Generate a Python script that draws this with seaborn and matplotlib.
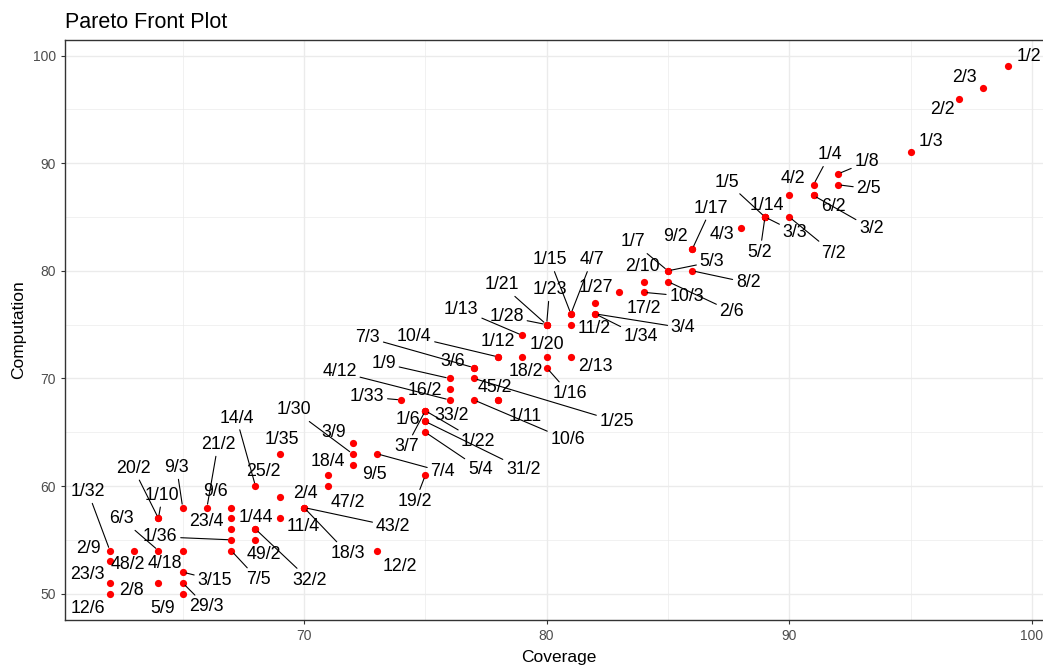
import matplotlib
matplotlib.use("Agg")
import matplotlib.pyplot as plt
import seaborn as sns
import pandas as pd

# ---------------- data ----------------
coverage = [62, 62, 63, 62, 62, 64, 65, 65, 64, 64,
            64, 65, 67, 65, 65, 66, 67, 67, 67, 68,
            69, 68, 68, 68, 69, 69, 70, 70, 70, 72,
            72, 71, 72, 71, 73, 75, 73, 74, 76, 75,
            75, 75, 75, 75, 75, 78, 78, 77, 77, 76,
            76, 77, 78, 77, 78, 79, 80, 80, 81, 79,
            80, 80, 80, 81, 81, 82, 81, 83, 82, 82,
            84, 85, 84, 85, 85, 86, 86, 86, 88, 89,
            89, 89, 89, 90, 90, 91, 91, 91, 92, 92,
            95, 97, 98, 99, 67]
computation = [54, 53, 54, 51, 50, 51, 50, 54, 54, 57,
               57, 58, 55, 52, 51, 58, 58, 57, 54, 60,
               59, 56, 55, 56, 63, 57, 58, 58, 58, 63,
               64, 61, 62, 60, 63, 61, 54, 68, 69, 66,
               67, 67, 67, 65, 66, 68, 68, 68, 70, 68,
               70, 71, 72, 71, 72, 72, 72, 71, 72, 74,
               75, 75, 75, 76, 76, 77, 75, 78, 76, 76,
               79, 80, 78, 79, 80, 80, 82, 82, 84, 85,
               85, 85, 85, 87, 85, 88, 87, 87, 89, 88,
               91, 96, 97, 99, 56]
labels = ["1/32", "2/9", "48/2", "23/3", "12/6", "2/8", "5/9", "4/18", "6/3", "20/2",
          "1/10", "9/3", "1/36", "3/15", "29/3", "21/2", "9/6", "23/4", "7/5", "14/4",
          "25/2", "1/44", "49/2", "32/2", "1/35", "11/4", "2/4", "43/2", "18/3", "1/30",
          "3/9", "18/4", "9/5", "47/2", "7/4", "19/2", "12/2", "1/33", "16/2", "1/6",
          "33/2", "3/7", "1/22", "5/4", "31/2", "45/2", "1/11", "10/6", "1/25", "4/12",
          "1/9", "7/3", "10/4", "3/6", "1/12", "18/2", "1/20", "1/16", "2/13", "1/13",
          "1/28", "1/21", "1/23", "1/15", "4/7", "1/27", "11/2", "17/2", "3/4", "1/34",
          "2/10", "1/7", "10/3", "2/6", "5/3", "8/2", "9/2", "1/17", "4/3", "1/5",
          "1/14", "5/2", "3/3", "4/2", "7/2", "1/4", "6/2", "3/2", "1/8", "2/5",
          "1/3", "2/2", "2/3", "1/2", ""]

# ---------------- label layout (offsets in pixels from the point) ----------------
label_offsets = {
    "1/32": (-22, 59), "2/9": (-21, 13), "48/2": (-6, -14), "23/3": (-23, 8),
    "12/6": (-22, -15), "2/8": (-27, -8), "5/9": (-20, -15), "4/18": (-18, -13),
    "6/3": (-37, 32), "20/2": (-25, 50), "1/10": (4, 23), "9/3": (-6, 40),
    "1/36": (-71, 3), "3/15": (32, -8), "29/3": (24, -24), "21/2": (11, 63),
    "9/6": (-16, 16), "23/4": (-25, -3), "7/5": (27, -29), "14/4": (-19, 68),
    "25/2": (-16, 25), "1/44": (0, 12), "49/2": (8, -15), "32/2": (54, -51),
    "1/35": (2, 14), "11/4": (23, -8), "2/4": (1, 14), "43/2": (89, -19),
    "18/3": (44, -46), "1/30": (-59, 44), "3/9": (-19, 10), "18/4": (0, 14),
    "9/5": (22, -10), "47/2": (20, -16), "7/4": (66, -18), "19/2": (-10, -26),
    "12/2": (23, -16), "1/33": (-34, 3), "16/2": (-25, -1), "1/6": (-17, 2),
    "33/2": (26, -5), "3/7": (-19, -36), "1/22": (53, -31), "5/4": (55, -37),
    "31/2": (98, -48), "45/2": (-3, 12), "1/11": (27, -17), "10/6": (94, -40),
    "1/25": (143, -43), "4/12": (-110, 28), "1/9": (-66, 15), "7/3": (-106, 30),
    "10/4": (-84, 20), "3/6": (-21, 6), "1/12": (0, 15), "18/2": (4, -15),
    "1/20": (0, 12), "1/16": (23, -26), "2/13": (24, -10), "1/13": (-61, 26),
    "1/28": (-40, 8), "1/21": (-45, 40), "1/23": (3, 35), "1/15": (-21, 54),
    "4/7": (21, 54), "1/27": (1, 16), "11/2": (23, -4), "17/2": (24, -16),
    "3/4": (88, -14), "1/34": (46, -23), "2/10": (-1, 15), "1/7": (-35, 29),
    "10/3": (43, -4), "2/6": (64, -30), "5/3": (44, 9), "8/2": (56, -12),
    "9/2": (-17, 13), "1/17": (19, 41), "4/3": (-19, -7), "1/5": (-38, 35),
    "1/14": (2, 12), "5/2": (-5, -35), "3/3": (30, -15), "4/2": (4, 17),
    "7/2": (44, -36), "1/4": (16, 30), "6/2": (20, -11), "3/2": (58, -33),
    "1/8": (29, 12), "2/5": (31, -4), "1/3": (20, 11), "2/2": (-17, -11),
    "2/3": (-19, 10), "1/2": (21, 10),
}
segment_labels = {
    "1/32", "6/3", "20/2", "1/10", "9/3", "1/36", "3/15", "29/3", "21/2", "7/5",
    "14/4", "32/2", "43/2", "18/3", "1/30", "7/4", "19/2", "1/33", "3/7", "1/22",
    "5/4", "31/2", "10/6", "1/25", "4/12", "1/9", "7/3", "10/4", "1/16", "1/13",
    "1/28", "1/21", "1/23", "1/15", "4/7", "3/4", "1/34", "1/7", "10/3", "2/6",
    "5/3", "8/2", "1/17", "1/5", "5/2", "3/3", "7/2", "1/4", "3/2", "1/8", "2/5",
}

df = pd.DataFrame({"Coverage": coverage, "Computation": computation, "Label": labels})

# ---------------- style ----------------
sns.set_theme(style="white")
plt.rcParams["font.family"] = ["Liberation Sans", "DejaVu Sans"]

W, H = 1043, 669
fig = plt.figure(figsize=(W / 100, H / 100), dpi=100)
ax = fig.add_axes([65 / W, 49 / H, 987.5 / W, 580 / H])

sns.scatterplot(data=df, x="Coverage", y="Computation", color="#FF0000",
                s=27, linewidth=0, ax=ax, zorder=3, legend=False)

for x, y, lab in zip(df["Coverage"], df["Computation"], df["Label"]):
    if not lab:
        continue
    dx, dy = label_offsets[lab]
    kw = {}
    if lab in segment_labels:
        kw["arrowprops"] = dict(arrowstyle="-", color="black", lw=0.8,
                                shrinkA=0, shrinkB=2.5)
    ax.annotate(lab, xy=(x, y), xytext=(dx, dy), textcoords="offset pixels",
                ha="center", va="center", fontsize=12.8, color="black",
                zorder=4, annotation_clip=False, **kw)

ax.set_xlim(60.15, 100.85)
ax.set_ylim(47.55, 101.45)
ax.set_xticks([70, 80, 90, 100])
ax.set_xticks([65, 75, 85, 95], minor=True)
ax.set_yticks([50, 60, 70, 80, 90, 100])
ax.set_yticks([55, 65, 75, 85, 95], minor=True)

ax.grid(which="major", color="#EBEBEB", lw=1.0)
ax.grid(which="minor", color="#EBEBEB", lw=0.5)
ax.set_axisbelow(True)

ax.tick_params(which="major", length=3.2, width=0.8, color="#333333",
               labelsize=10, labelcolor="#4D4D4D", pad=3.5,
               bottom=True, left=True)
ax.tick_params(which="minor", length=0)
for sp in ax.spines.values():
    sp.set_visible(True)
    sp.set_color("#333333")
    sp.set_linewidth(1.0)

ax.set_xlabel("Coverage", fontsize=12.5, color="black")
ax.set_ylabel("Computation", fontsize=12.5, color="black")
ax.xaxis.set_label_coords(0.5, -0.052)
ax.yaxis.set_label_coords(-0.039, 0.5)
ax.set_title("Pareto Front Plot", loc="left", fontsize=15.5, color="black", pad=9)

fig.savefig("out.png", dpi=100)
